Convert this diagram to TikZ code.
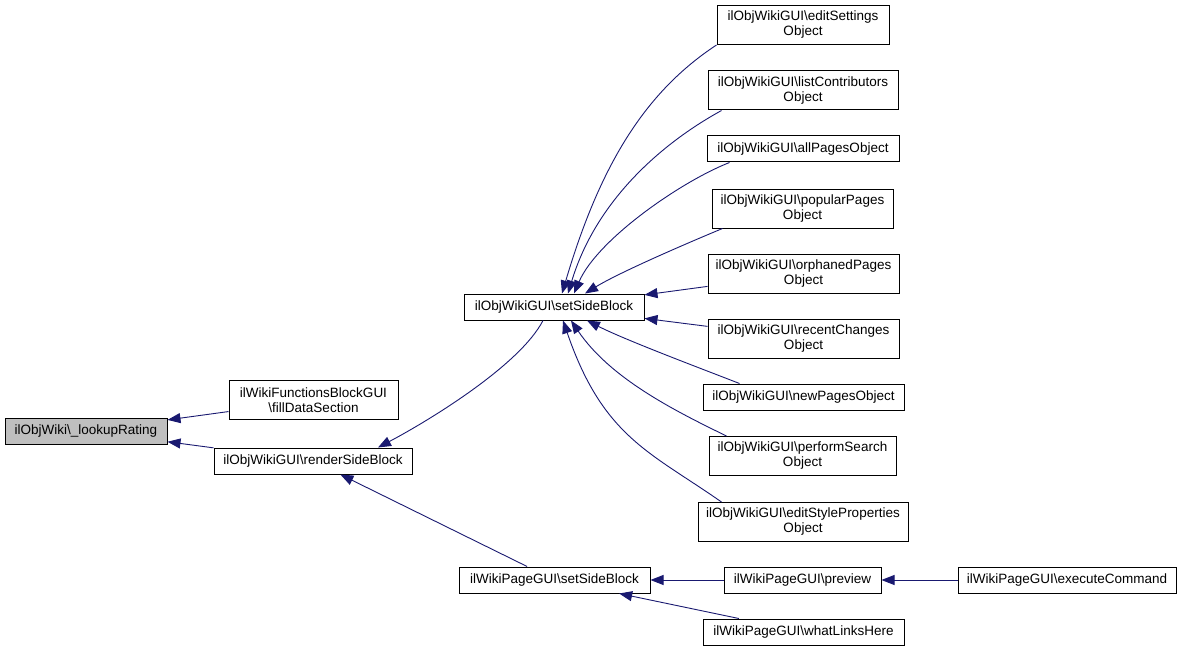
\documentclass[tikz,border=0pt]{standalone}
\usepackage{fontspec}
\setmainfont{Liberation Sans}
\usetikzlibrary{arrows.meta}
\definecolor{edgeblue}{RGB}{25,25,112}
\definecolor{selgray}{RGB}{191,191,191}
\newcommand{\bs}{\textbackslash}
\begin{document}
\begin{tikzpicture}[x=1pt,y=-1pt,
  box/.style={draw=black, line width=1pt, fill=white, inner sep=0pt, align=center,
    font=\fontsize{13.5}{15}\selectfont, minimum height=26pt},
  tall/.style={minimum height=39pt},
  edge/.style={draw=edgeblue, line width=0.9pt, -{Triangle[length=13pt,width=10pt]}},
]
\useasboundingbox (0,0) rectangle (1181,650);

% nodes
\node[box, fill=selgray, minimum width=162pt] (lr) at (86,431) {ilObjWiki\bs\_lookupRating};
\node[box, tall, minimum width=169pt] (fds) at (313.5,400) {ilWikiFunctionsBlockGUI\\\bs fillDataSection};
\node[box, minimum width=198pt] (rsb) at (313,461) {ilObjWikiGUI\bs renderSideBlock};
\node[box, minimum width=180pt] (ssb) at (554,307) {ilObjWikiGUI\bs setSideBlock};

\node[box, tall, minimum width=172pt] (es) at (803,25) {ilObjWikiGUI\bs editSettings\\Object};
\node[box, tall, minimum width=190pt] (lc) at (803,90.5) {ilObjWikiGUI\bs listContributors\\Object};
\node[box, minimum width=192pt] (ap) at (803,149) {ilObjWikiGUI\bs allPagesObject};
\node[box, tall, minimum width=181pt] (pp) at (802.5,208.5) {ilObjWikiGUI\bs popularPages\\Object};
\node[box, tall, minimum width=191pt] (op) at (803.5,273.5) {ilObjWikiGUI\bs orphanedPages\\Object};
\node[box, tall, minimum width=191pt] (rc) at (803.5,338.5) {ilObjWikiGUI\bs recentChanges\\Object};
\node[box, minimum width=201pt] (np) at (803.5,397) {ilObjWikiGUI\bs newPagesObject};
\node[box, tall, minimum width=187pt] (ps) at (802.5,456) {ilObjWikiGUI\bs performSearch\\Object};
\node[box, tall, minimum width=210pt] (esp) at (803,522) {ilObjWikiGUI\bs editStyleProperties\\Object};

\node[box, minimum width=191pt] (wpssb) at (554.5,580) {ilWikiPageGUI\bs setSideBlock};
\node[box, minimum width=157pt] (pv) at (802.5,580) {ilWikiPageGUI\bs preview};
\node[box, minimum width=218pt] (ec) at (1067,580) {ilWikiPageGUI\bs executeCommand};
\node[box, minimum width=201pt] (wlh) at (803.5,632) {ilWikiPageGUI\bs whatLinksHere};

% edges
\draw[edge] (fds) -- (lr);
\draw[edge] (rsb) -- (lr);
\draw[edge] ([xshift=-11pt]ssb.south) .. controls (520,365) and (430,420) .. ([xshift=65pt]rsb.north);
\draw[edge] (wpssb) -- (rsb);

\draw[edge] (es.south west) .. controls (645,92) and (600,165) .. ([xshift=8pt]ssb.north);
\draw[edge] ([xshift=14pt]lc.south west) .. controls (657,146) and (595,204) .. ([xshift=14pt]ssb.north);
\draw[edge] ([xshift=23pt]ap.south west) .. controls (680,182) and (597,240) .. ([xshift=20pt]ssb.north);
\draw[edge] ([xshift=11pt]pp.south west) .. controls (690,242) and (620,272) .. ([xshift=31pt]ssb.north);
\draw[edge] (op) -- (ssb);
\draw[edge] (rc) -- (ssb);
\draw[edge] ([xshift=37pt]np.north west) .. controls (705,370) and (625,340) .. ([xshift=33pt]ssb.south);
\draw[edge] ([xshift=18pt]ps.north west) .. controls (673,410) and (610,378) .. ([xshift=17pt]ssb.south);
\draw[edge] ([xshift=24pt]esp.north west) .. controls (650,452) and (603,437) .. ([xshift=9pt]ssb.south);

\draw[edge] (pv) -- (wpssb);
\draw[edge] (ec) -- (pv);
\draw[edge] (wlh) -- (wpssb);
\end{tikzpicture}
\end{document}
